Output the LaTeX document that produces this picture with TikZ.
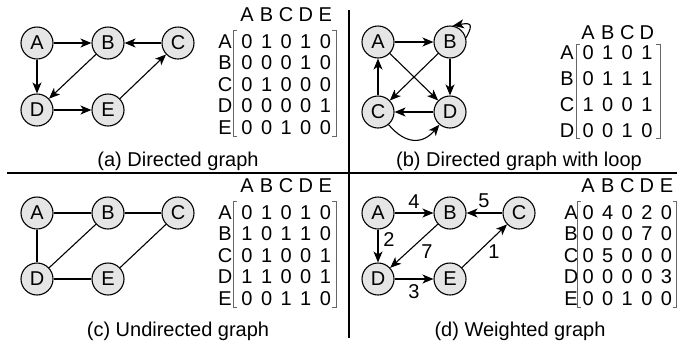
\documentclass[tikz,border=0pt]{standalone}
\usepackage{fontspec}
\setmainfont{Liberation Sans}
\usetikzlibrary{arrows.meta}
\begin{document}
\begin{tikzpicture}[x=1pt,y=-1pt,
  vert/.style={circle,draw,fill=black!10,line width=1.1pt,minimum size=32pt,inner sep=0pt,font=\fontsize{20}{24}\selectfont},
  arr/.style={line width=1.1pt,-{Stealth[length=11pt,width=9pt,inset=3pt]}},
  und/.style={line width=1.1pt},
  lbl/.style={inner sep=0pt,font=\fontsize{20}{24}\selectfont},
  captext/.style={inner sep=0pt,anchor=base,font=\fontsize{20}{24}\selectfont},
  brk/.style={draw=black!60,line width=0.9pt},
  sep/.style={line width=1.2pt}
]
\useasboundingbox (0,0) rectangle (677,341);
% separators
\coordinate (h1) at (7,173);
\coordinate (h2) at (677,173);
\coordinate (v1) at (349,10);
\coordinate (v2) at (349,338);
\draw[sep] (h1) -- (h2);
\draw[sep] (v1) -- (v2);

%================ (a) =================
\node[vert] (aA) at (37,43) {A};
\node[vert] (aB) at (108,43) {B};
\node[vert] (aC) at (178,43) {C};
\node[vert] (aD) at (37,110) {D};
\node[vert] (aE) at (108,110) {E};
\draw[arr] (aA) -- (aB);
\draw[arr] (aA) -- (aD);
\draw[arr] (aC) -- (aB);
\draw[arr] (aB) -- (aD);
\draw[arr] (aD) -- (aE);
\draw[arr] (aE) -- (aC);
\foreach \c [count=\j] in {A,B,C,D,E} \node[lbl] (ah\c) at ({227.4+19.6*\j},15) {\c};
\foreach \r/\y in {A/42,B/63,C/85,D/106,E/128} \node[lbl] (ar\r) at (225,\y) {\r};
\foreach \v [count=\j] in {0,1,0,1,0} \node[lbl] (aA\j) at ({227.4+19.6*\j},42) {\v};
\foreach \v [count=\j] in {0,0,0,1,0} \node[lbl] (aB\j) at ({227.4+19.6*\j},63) {\v};
\foreach \v [count=\j] in {0,1,0,0,0} \node[lbl] (aC\j) at ({227.4+19.6*\j},85) {\v};
\foreach \v [count=\j] in {0,0,0,0,1} \node[lbl] (aD\j) at ({227.4+19.6*\j},106) {\v};
\foreach \v [count=\j] in {0,0,1,0,0} \node[lbl] (aE\j) at ({227.4+19.6*\j},128) {\v};
\draw[brk] (237,30) -- (233,30) -- (233,136) -- (237,136);
\draw[brk] (332,30) -- (336,30) -- (336,136) -- (332,136);
\node[captext] (capa) at (178,166) {(a) Directed graph};

%================ (b) =================
\node[vert] (bA) at (378,42) {A};
\node[vert] (bB) at (450,42) {B};
\node[vert] (bC) at (378,112) {C};
\node[vert] (bD) at (450,112) {D};
\draw[arr] (bA) -- (bB);
\draw[arr] (bA) -- (bD);
\draw[arr] (bB) -- (bC);
\draw[arr] (bB) -- (bD);
\draw[arr] (bC) -- (bA);
\draw[arr] (bD) -- (bC);
\draw[arr] (bC.-50) .. controls +(50:26) and +(130:26) .. (bD.-130);
\draw[arr] (bB.15) .. controls +(-60:18) and +(-10:16) .. (bB.80);
\foreach \c [count=\j] in {A,B,C,D} \node[lbl] (bh\c) at ({568.5+19.6*\j},33) {\c};
\foreach \r/\y in {A/53,B/79,C/105,D/131} \node[lbl] (br\r) at (567,\y) {\r};
\foreach \v [count=\j] in {0,1,0,1} \node[lbl] (bA\j) at ({568.5+19.6*\j},53) {\v};
\foreach \v [count=\j] in {0,1,1,1} \node[lbl] (bB\j) at ({568.5+19.6*\j},79) {\v};
\foreach \v [count=\j] in {1,0,0,1} \node[lbl] (bC\j) at ({568.5+19.6*\j},105) {\v};
\foreach \v [count=\j] in {0,0,1,0} \node[lbl] (bD\j) at ({568.5+19.6*\j},131) {\v};
\draw[brk] (580,44) -- (576,44) -- (576,138) -- (580,138);
\draw[brk] (656,44) -- (660,44) -- (660,138) -- (656,138);
\node[captext] (capb) at (519,166) {(b) Directed graph with loop};

%================ (c) =================
\node[vert] (cA) at (37,213) {A};
\node[vert] (cB) at (108,213) {B};
\node[vert] (cC) at (178,213) {C};
\node[vert] (cD) at (37,279) {D};
\node[vert] (cE) at (108,279) {E};
\draw[und] (cA) -- (cB);
\draw[und] (cB) -- (cC);
\draw[und] (cA) -- (cD);
\draw[und] (cB) -- (cD);
\draw[und] (cD) -- (cE);
\draw[und] (cE) -- (cC);
\foreach \c [count=\j] in {A,B,C,D,E} \node[lbl] (ch\c) at ({227.4+19.6*\j},186) {\c};
\foreach \r/\y in {A/213,B/234,C/256,D/277,E/299} \node[lbl] (cr\r) at (225,\y) {\r};
\foreach \v [count=\j] in {0,1,0,1,0} \node[lbl] (cA\j) at ({227.4+19.6*\j},213) {\v};
\foreach \v [count=\j] in {1,0,1,1,0} \node[lbl] (cB\j) at ({227.4+19.6*\j},234) {\v};
\foreach \v [count=\j] in {0,1,0,0,1} \node[lbl] (cC\j) at ({227.4+19.6*\j},256) {\v};
\foreach \v [count=\j] in {1,1,0,0,1} \node[lbl] (cD\j) at ({227.4+19.6*\j},277) {\v};
\foreach \v [count=\j] in {0,0,1,1,0} \node[lbl] (cE\j) at ({227.4+19.6*\j},299) {\v};
\draw[brk] (237,201) -- (233,201) -- (233,307) -- (237,307);
\draw[brk] (332,201) -- (336,201) -- (336,307) -- (332,307);
\node[captext] (capc) at (178,336) {(c) Undirected graph};

%================ (d) =================
\node[vert] (dA) at (378,213) {A};
\node[vert] (dB) at (450,213) {B};
\node[vert] (dC) at (519,213) {C};
\node[vert] (dD) at (378,279) {D};
\node[vert] (dE) at (450,279) {E};
\draw[arr] (dA) -- (dB);
\draw[arr] (dA) -- (dD);
\draw[arr] (dC) -- (dB);
\draw[arr] (dB) -- (dD);
\draw[arr] (dD) -- (dE);
\draw[arr] (dE) -- (dC);
\node[lbl] (w4) at (414,202) {4};
\node[lbl] (w5) at (484,201) {5};
\node[lbl] (w2) at (389,240) {2};
\node[lbl] (w7) at (427,252) {7};
\node[lbl] (w1) at (494,252) {1};
\node[lbl] (w3) at (414,292) {3};
\foreach \c [count=\j] in {A,B,C,D,E} \node[lbl] (dh\c) at ({568.5+19.6*\j},186) {\c};
\foreach \r/\y in {A/213,B/234,C/256,D/277,E/299} \node[lbl] (dr\r) at (571,\y) {\r};
\foreach \v [count=\j] in {0,4,0,2,0} \node[lbl] (dA\j) at ({568.5+19.6*\j},213) {\v};
\foreach \v [count=\j] in {0,0,0,7,0} \node[lbl] (dB\j) at ({568.5+19.6*\j},234) {\v};
\foreach \v [count=\j] in {0,5,0,0,0} \node[lbl] (dC\j) at ({568.5+19.6*\j},256) {\v};
\foreach \v [count=\j] in {0,0,0,0,3} \node[lbl] (dD\j) at ({568.5+19.6*\j},277) {\v};
\foreach \v [count=\j] in {0,0,1,0,0} \node[lbl] (dE\j) at ({568.5+19.6*\j},299) {\v};
\draw[brk] (581,201) -- (577,201) -- (577,307) -- (581,307);
\draw[brk] (673,201) -- (676.5,201) -- (676.5,307) -- (673,307);
\node[captext] (capd) at (520,336) {(d) Weighted graph};
\end{tikzpicture}
\end{document}
